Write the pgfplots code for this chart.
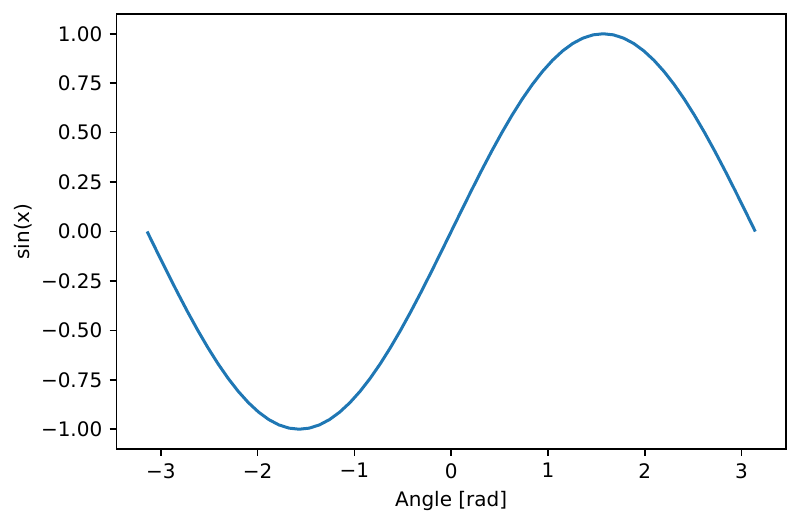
\documentclass[border=0pt]{standalone}
\usepackage{fontspec}
\setmainfont{DejaVu Sans}
\usepackage{pgfplots}
\pgfplotsset{compat=1.18}
\usepackage{pgfplotstable}
\definecolor{mplblue}{HTML}{1F77B4}
\pgfplotstableread{
x y
-3.14159 0.000000
-3.03687 -0.104528
-2.93215 -0.207912
-2.82743 -0.309017
-2.72271 -0.406737
-2.61799 -0.500000
-2.51327 -0.587785
-2.40855 -0.669131
-2.30383 -0.743145
-2.19911 -0.809017
-2.09440 -0.866025
-1.98968 -0.913545
-1.88496 -0.951057
-1.78024 -0.978148
-1.67552 -0.994522
-1.57080 -1.000000
-1.46608 -0.994522
-1.36136 -0.978148
-1.25664 -0.951057
-1.15192 -0.913545
-1.04720 -0.866025
-0.94248 -0.809017
-0.83776 -0.743145
-0.73304 -0.669131
-0.62832 -0.587785
-0.52360 -0.500000
-0.41888 -0.406737
-0.31416 -0.309017
-0.20944 -0.207912
-0.10472 -0.104528
0.00000 0.000000
0.10472 0.104528
0.20944 0.207912
0.31416 0.309017
0.41888 0.406737
0.52360 0.500000
0.62832 0.587785
0.73304 0.669131
0.83776 0.743145
0.94248 0.809017
1.04720 0.866025
1.15192 0.913545
1.25664 0.951057
1.36136 0.978148
1.46608 0.994522
1.57080 1.000000
1.67552 0.994522
1.78024 0.978148
1.88496 0.951057
1.98968 0.913545
2.09440 0.866025
2.19911 0.809017
2.30383 0.743145
2.40855 0.669131
2.51327 0.587785
2.61799 0.500000
2.72271 0.406737
2.82743 0.309017
2.93215 0.207912
3.03687 0.104528
3.14159 0.000000
}\sine
\begin{document}
\fontsize{10}{12}\selectfont
\begin{tikzpicture}
\useasboundingbox (-58.35pt,-37pt) rectangle (341.65pt,224.5pt);
\begin{axis}[
  at={(0pt,0pt)}, anchor=south west,
  scale only axis, width=334.5pt, height=217.5pt,
  xmin=-3.45575, xmax=3.45575, ymin=-1.1, ymax=1.1,
  axis line style={line width=0.8pt, black},
  tick style={line width=0.8pt, black},
  tick align=outside, tick pos=left,
  major tick length=3.5pt,
  xtick={-3,-2,-1,0,1,2,3},
  xticklabels={−3,−2,−1,0,1,2,3},
  ytick={-1,-0.75,-0.5,-0.25,0,0.25,0.5,0.75,1},
  yticklabels={−1.00,−0.75,−0.50,−0.25,0.00,0.25,0.50,0.75,1.00},
  ticklabel style={font=\fontsize{10}{12}\selectfont},
  xticklabel style={inner sep=0pt, yshift=-3.5pt},
  yticklabel style={inner sep=0pt, xshift=-3.5pt},
  xlabel={Angle [rad]},
  ylabel={sin(x)},
  label style={font=\fontsize{10}{12}\selectfont},
  xlabel style={inner sep=0pt, yshift=-6pt},
  ylabel style={inner sep=0pt, yshift=4pt},
]
\addplot[mplblue, line width=1.5pt, line join=round] table[x=x,y=y] {\sine};
\end{axis}
\end{tikzpicture}
\end{document}
